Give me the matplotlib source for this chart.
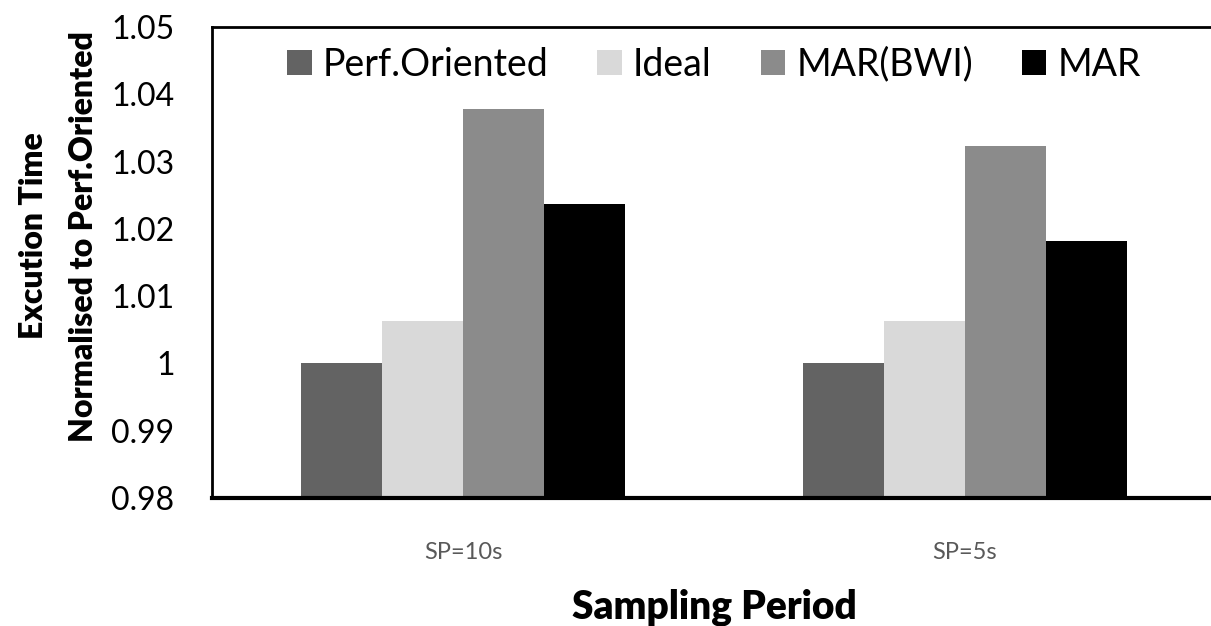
import numpy as np
import matplotlib
matplotlib.use("Agg")
import matplotlib.pyplot as plt

# values
categories = ["SP=10s", "SP=5s"]
series_names = ["Perf.Oriented", "Ideal", "MAR(BWI)", "MAR"]
perf_oriented = [1.0, 1.0]
ideal = [1.0063, 1.0063]
mar_bwi = [1.0378, 1.0323]
mar = [1.0237, 1.0182]
y_ticks = [0.98, 0.99, 1.0, 1.01, 1.02, 1.03, 1.04, 1.05]
y_tick_labels = ["0.98", "0.99", "1", "1.01", "1.02", "1.03", "1.04", "1.05"]

colors = ["#636363", "#d9d9d9", "#8b8b8b", "#000000"]

plt.rcParams['font.family'] = ['Lato', 'DejaVu Sans']

fig = plt.figure(figsize=(12.11, 6.26), dpi=100)
ax = fig.add_axes([212 / 1211, 1 - 498 / 626, 1004 / 1211, 471 / 626])

x = np.arange(len(categories))
width = 0.161
all_series = [perf_oriented, ideal, mar_bwi, mar]
base = 0.98
for i, (name, vals) in enumerate(zip(series_names, all_series)):
    offs = (i - 1.5) * width
    ax.bar(x + offs, np.array(vals) - base, width, bottom=base,
           color=colors[i], label=name, zorder=2)

ax.set_xlim(-0.5, 1.5)
ax.set_ylim(0.98, 1.05)
ax.set_yticks(y_ticks)
ax.set_yticklabels(y_tick_labels)
ax.set_xticks(x)
ax.set_xticklabels(categories)

ax.tick_params(axis='y', length=0, pad=27, labelsize=23, labelcolor='black')
ax.tick_params(axis='x', length=0, pad=32, labelsize=17, labelcolor='#595959')

for side in ['top', 'left']:
    ax.spines[side].set_linewidth(2)
ax.spines['bottom'].set_linewidth(3)
ax.spines['right'].set_visible(False)

ax.set_ylabel("Excution Time\nNormalised to Perf.Oriented", fontsize=23,
              fontweight='heavy', linespacing=1.85)
# label sits a bit above the axes centre in the reference
ax.yaxis.set_label_coords(-0.114, 0.556)
ax.set_xlabel("Sampling Period", fontsize=28, fontweight='heavy', labelpad=18)

leg = ax.legend(loc='upper center', bbox_to_anchor=(0.5, 1.0), ncol=4,
                frameon=False, fontsize=27, handlelength=0.65, handleheight=0.65,
                handletextpad=0.3, columnspacing=1.3, borderaxespad=0.12)

fig.savefig("out.png", dpi=100)
